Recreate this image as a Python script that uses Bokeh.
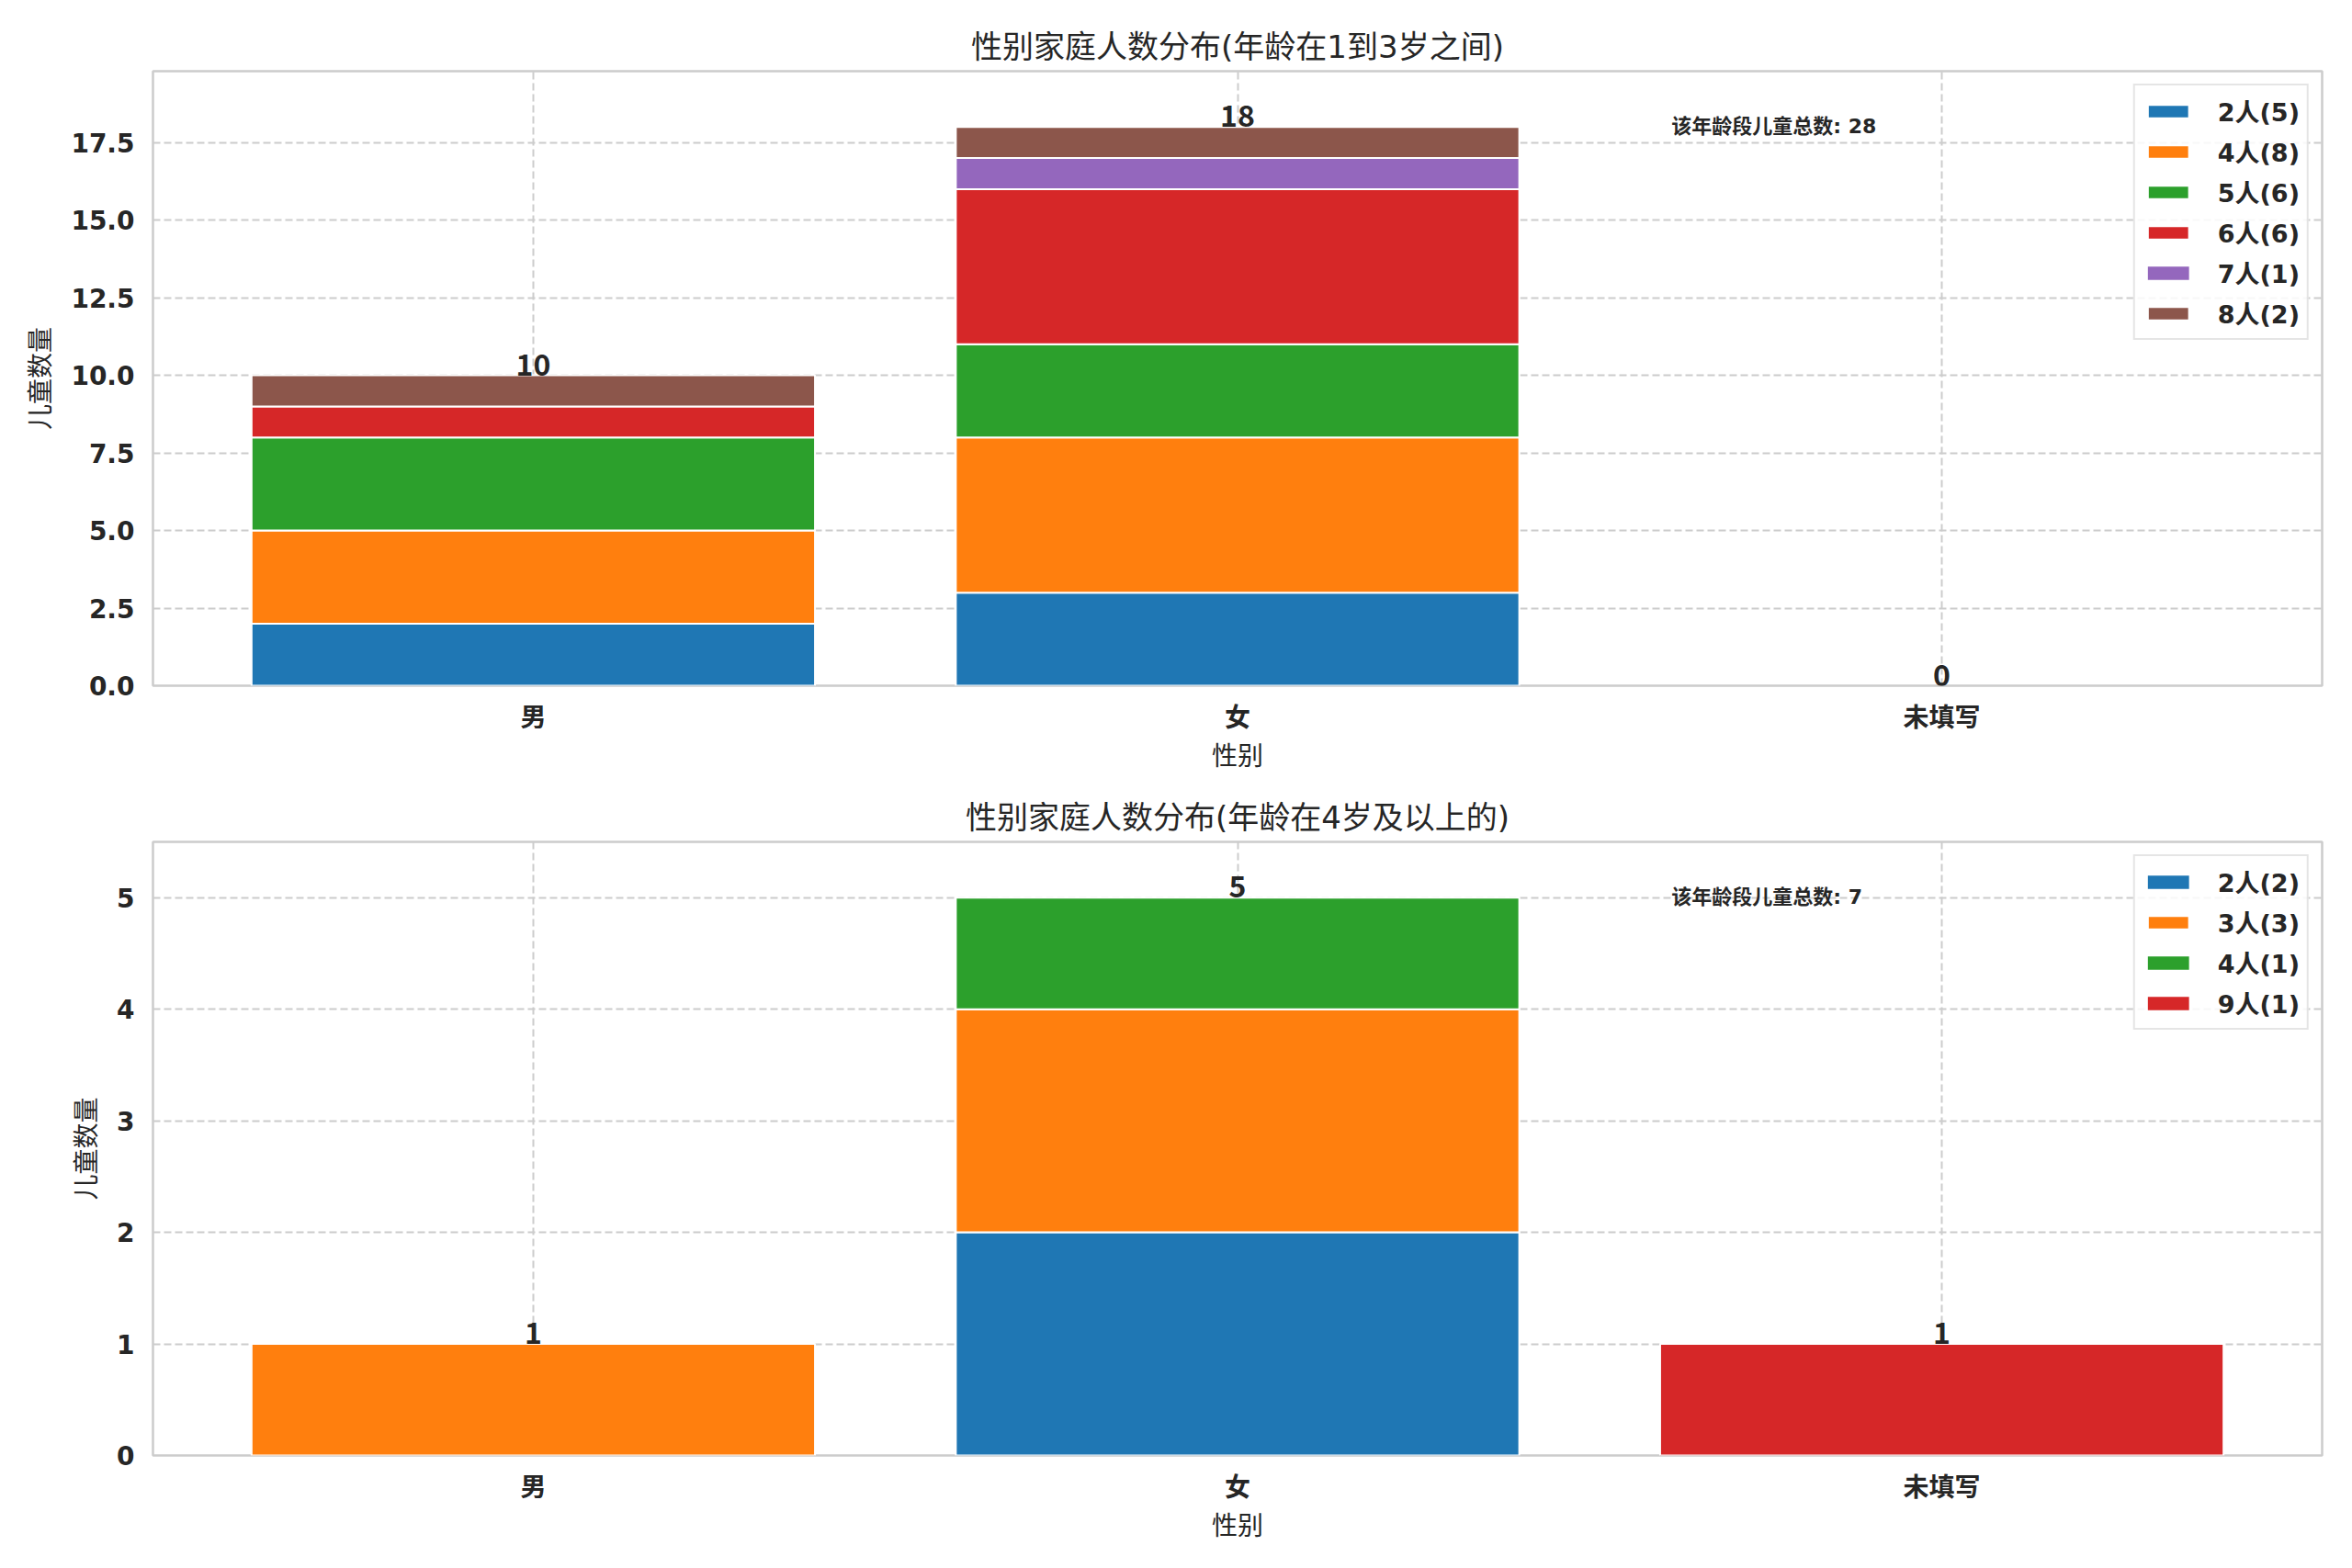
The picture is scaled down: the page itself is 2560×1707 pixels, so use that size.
from bokeh.plotting import figure
from bokeh.models import (FactorRange, Range1d, FixedTicker, Legend, LegendItem,
                          Label, ColumnDataSource, NumeralTickFormatter)
from bokeh.layouts import column
from bokeh.core.properties import value
from bokeh.embed import file_html
from bokeh.resources import INLINE

# ---------------- data ----------------
genders = ["男", "女", "未填写"]

top_title = "性别家庭人数分布(年龄在1到3岁之间)"
top_sizes = ["2人", "4人", "5人", "6人", "7人", "8人"]
top_2 = [2, 3, 0]
top_4 = [3, 5, 0]
top_5 = [3, 3, 0]
top_6 = [1, 5, 0]
top_7 = [0, 1, 0]
top_8 = [1, 1, 0]
top_ticks = [0, 2.5, 5.0, 7.5, 10.0, 12.5, 15.0, 17.5]

bot_title = "性别家庭人数分布(年龄在4岁及以上的)"
bot_sizes = ["2人", "3人", "4人", "9人"]
bot_2 = [0, 2, 0]
bot_3 = [1, 2, 0]
bot_4 = [0, 1, 0]
bot_9 = [0, 0, 1]
bot_ticks = [0, 1, 2, 3, 4, 5]

x_label = "性别"
y_label = "儿童数量"
total_label = "该年龄段儿童总数"

palette = ["#1f77b4", "#ff7f0e", "#2ca02c", "#d62728", "#9467bd", "#8c564b"]

TXT = "#262626"
FONT = "DejaVu Sans, Noto Sans CJK SC"
CJK = "Noto Sans CJK SC"


def make_chart(title, sizes, series, ticks, fmt, border_top, frame_h, border_bottom):
    data = {"gender": genders}
    for s, vals in zip(sizes, series):
        data[s] = vals
        data["la_" + s] = [1.0 if v > 0 else 0.0 for v in vals]
    totals = [sum(v[i] for v in series) for i in range(len(genders))]
    data["total"] = totals
    data["label"] = [str(t) for t in totals]
    src = ColumnDataSource(data)

    pad = 0.04
    ymax = max(totals) * 1.1
    xr = FactorRange(factors=genders, range_padding=pad, range_padding_units="absolute")
    p = figure(x_range=xr, y_range=Range1d(0, ymax),
               frame_width=2361, frame_height=frame_h,
               min_border_left=166, min_border_right=25,
               min_border_top=border_top, min_border_bottom=border_bottom,
               output_backend="svg", toolbar_location=None, title=title)
    p.background_fill_color = "white"
    p.border_fill_color = "white"
    p.outline_line_color = "#cccccc"
    p.outline_line_width = 2.5

    p.title.align = "center"
    p.title.text_font = FONT
    p.title.text_font_size = "34px"
    p.title.text_font_style = "normal"
    p.title.text_color = TXT
    p.title.standoff = 13

    p.grid.grid_line_color = "#cccccc"
    p.grid.grid_line_dash = "8 4"
    p.grid.grid_line_width = 2

    for ax in (p.xaxis, p.yaxis):
        ax.axis_line_color = None
        ax.major_tick_line_color = None
        ax.minor_tick_line_color = None
        ax.major_tick_out = 0
        ax.major_tick_in = 0
        ax.major_label_text_font = FONT
        ax.major_label_text_font_size = "28px"
        ax.major_label_text_font_style = "bold"
        ax.major_label_text_color = TXT
        ax.axis_label_text_font = FONT
        ax.axis_label_text_font_size = "28px"
        ax.axis_label_text_font_style = "normal"
        ax.axis_label_text_color = TXT
    p.xaxis.axis_label = x_label
    p.yaxis.axis_label = y_label
    p.xaxis.major_label_standoff = 18
    p.xaxis.axis_label_standoff = 6
    p.yaxis.major_label_standoff = 20
    p.yaxis.axis_label_standoff = 13
    p.yaxis.ticker = FixedTicker(ticks=ticks)
    p.yaxis.formatter = NumeralTickFormatter(format=fmt)

    rends = p.vbar_stack(sizes, x="gender", width=0.8, source=src,
                         color=palette[:len(sizes)], line_color="white", line_width=2,
                         line_alpha=["la_" + s for s in sizes])

    p.text(x="gender", y="total", text="label", source=src,
           text_align="center", text_baseline="bottom",
           text_font=value(CJK), text_font_style="bold",
           text_font_size="32px", text_color=TXT)

    items = [LegendItem(label=f"{s}({sum(v)})", renderers=[r])
             for s, v, r in zip(sizes, series, rends)]
    legend = Legend(items=items, location="top_right",
                    label_text_font=FONT, label_text_font_size="27px",
                    label_text_font_style="bold", label_text_color=TXT,
                    glyph_width=56, glyph_height=18, label_height=30,
                    label_standoff=26, spacing=5, padding=8, margin=14,
                    border_line_color="#cccccc", border_line_width=2,
                    background_fill_color="white", background_fill_alpha=0.85)
    p.add_layout(legend)

    x0 = -pad
    x1 = len(genders) + pad
    ann = Label(x=x0 + 0.70 * (x1 - x0), y=0.91 * ymax,
                text=f"{total_label}: {sum(totals)}",
                text_font=FONT, text_font_size="22px", text_font_style="bold",
                text_color=TXT, text_baseline="alphabetic", text_align="left")
    p.add_layout(ann)
    return p


p1 = make_chart(top_title, top_sizes, [top_2, top_4, top_5, top_6, top_7, top_8],
                top_ticks, "0.0", 77, 669, 102)
p2 = make_chart(bot_title, bot_sizes, [bot_2, bot_3, bot_4, bot_9],
                bot_ticks, "0", 68, 668, 96)

layout = column(p1, p2, spacing=0)
open("out.html", "w").write(file_html(layout, INLINE))
